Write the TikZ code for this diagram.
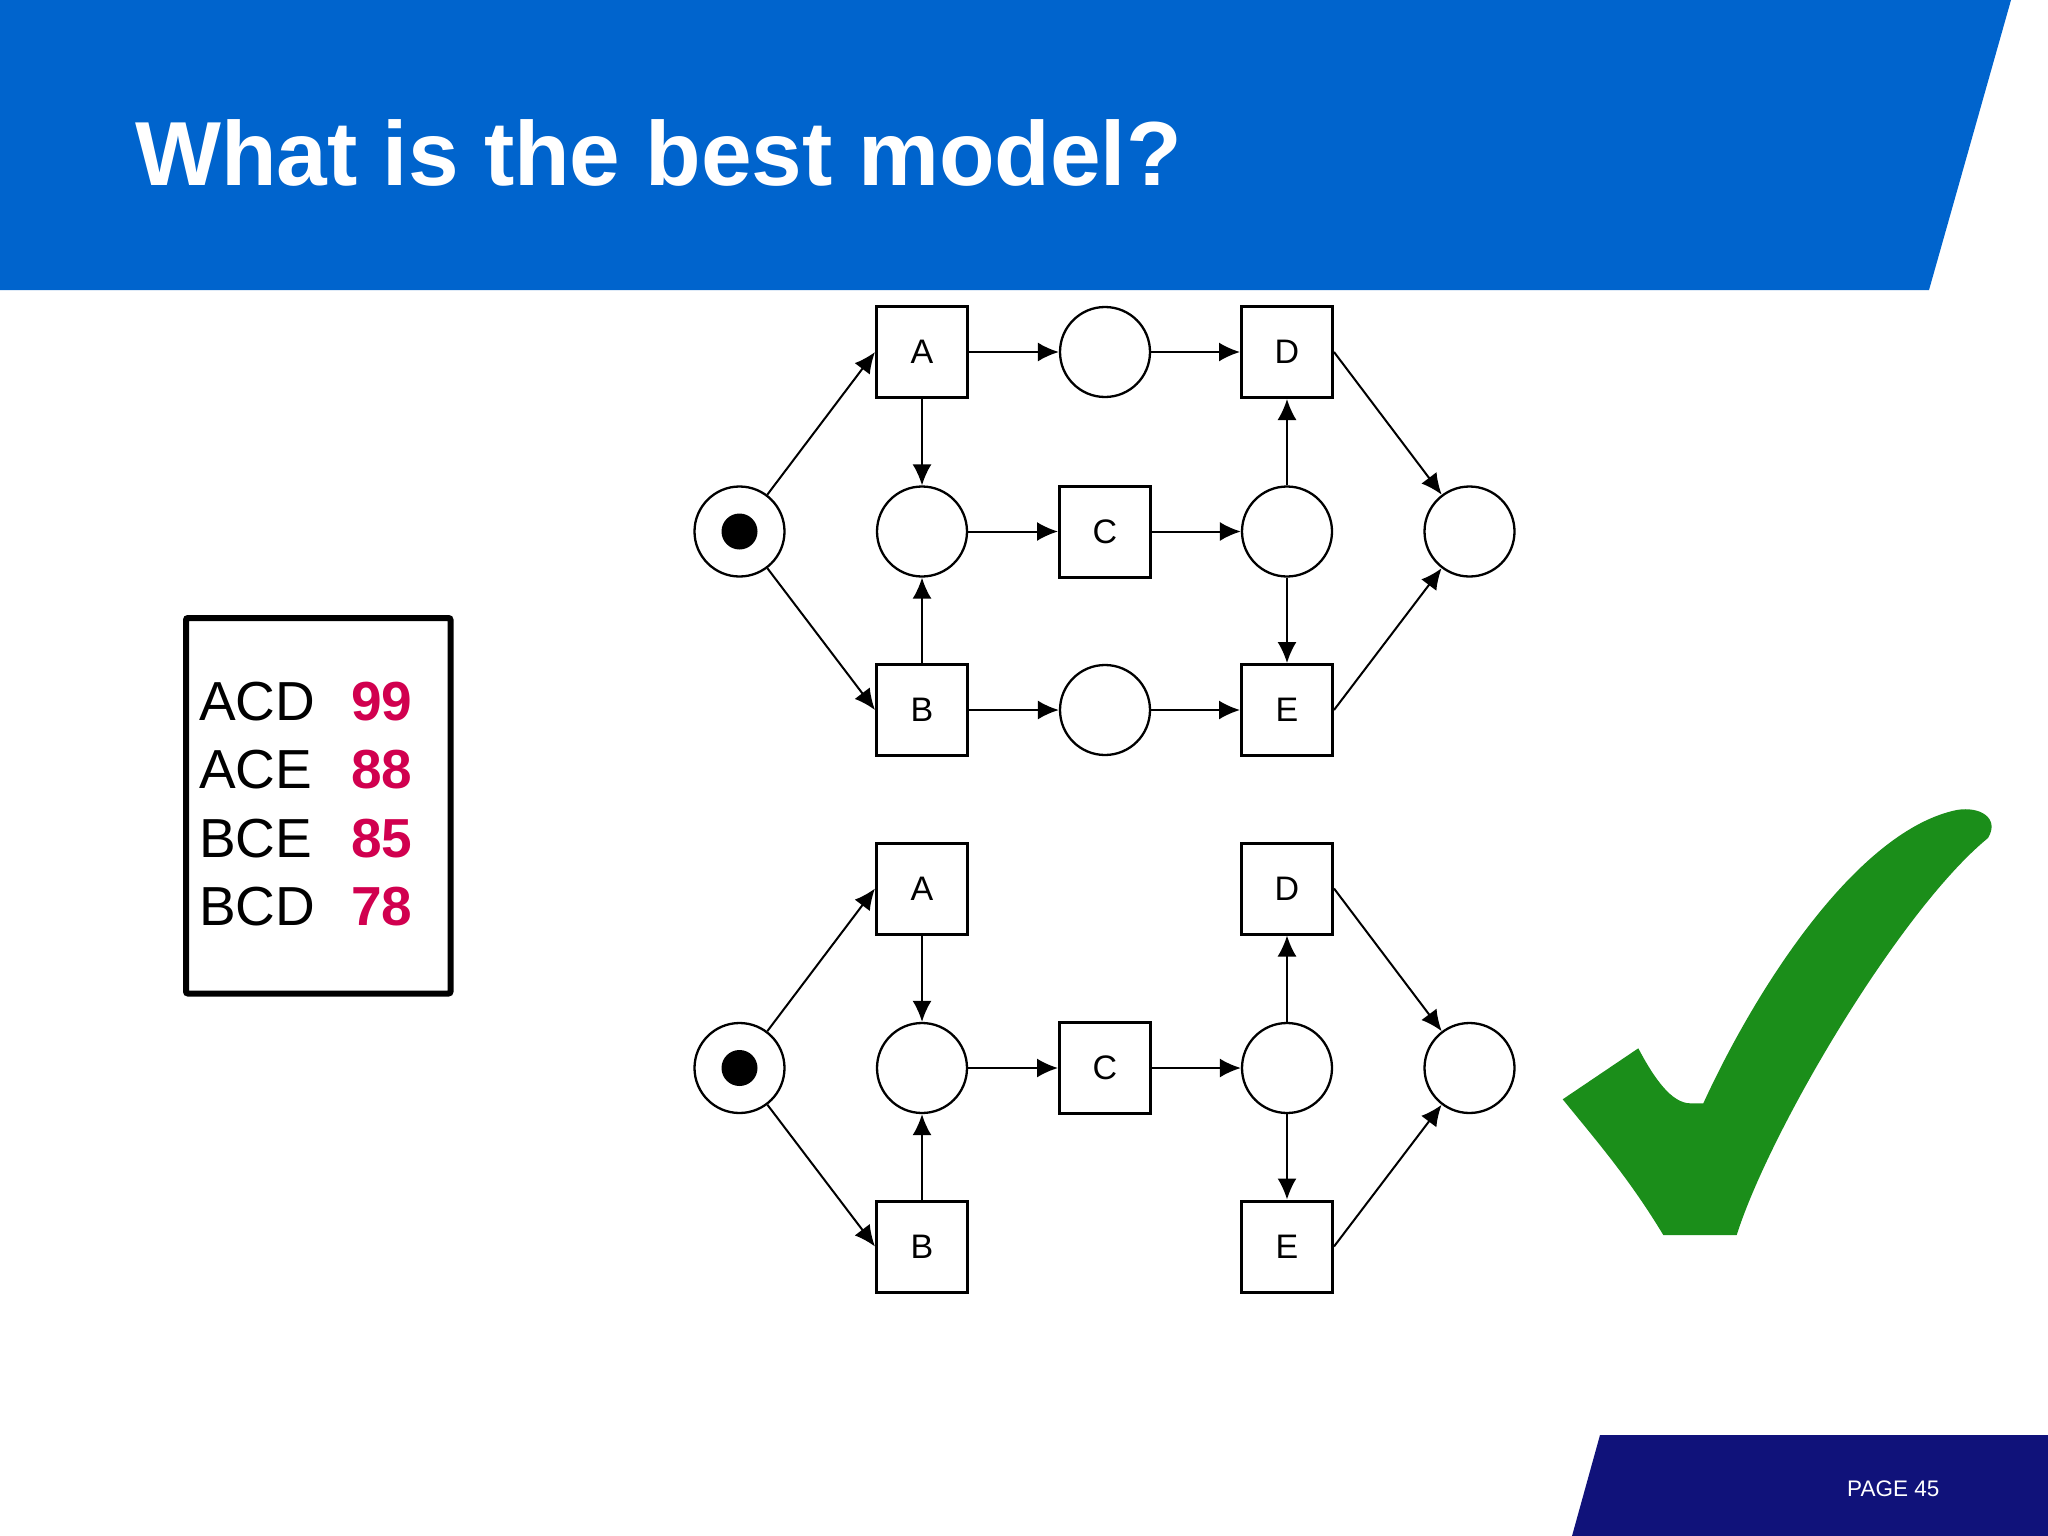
\documentclass[tikz,border=0pt]{standalone}
\usepackage{fontspec}
\setmainfont{Liberation Sans}
\usetikzlibrary{arrows.meta}
\definecolor{hdrblue}{HTML}{0064CD}
\definecolor{navy}{HTML}{10127A}
\definecolor{chkgreen}{HTML}{1B8E1A}
\definecolor{scorered}{HTML}{D1004F}
\tikzset{
  place/.style={circle, draw, line width=2.3pt, minimum size=90pt, inner sep=0pt},
  token/.style={circle, fill=black, minimum size=36pt, inner sep=0pt},
  trans/.style={rectangle, draw, line width=3pt, minimum size=91pt, inner sep=0pt, font=\fontsize{34}{40}\selectfont},
  arc/.style={-{Latex[length=21pt,width=19pt]}, line width=2pt},
  tabtext/.style={anchor=base west, inner sep=0pt, font=\fontsize{55}{60}\selectfont},
  tabnum/.style={anchor=base west, inner sep=0pt, text=scorered, font=\fontsize{55}{60}\selectfont\bfseries},
}
\begin{document}
\begin{tikzpicture}[x=1pt,y=-1pt]
\useasboundingbox (0,0) rectangle (2048,1536);
\fill[white] (0,0) rectangle (2048,1536);
% header
\fill[hdrblue] (0,0) -- (2011,0) -- (1929,290) -- (0,290) -- cycle;
\node[anchor=base west, inner sep=0pt, text=white, font=\fontsize{91}{100}\selectfont\bfseries] (title) at (135,185) {What is the best model?};
% footer
\fill[navy] (1600,1435) -- (2048,1435) -- (2048,1536) -- (1572,1536) -- cycle;
\node[anchor=base west, inner sep=0pt, text=white, font=\fontsize{22.5}{26}\selectfont] (page) at (1847,1496) {PAGE 45};
% score table
\draw[line width=6pt, rounded corners=2pt] (186,618) rectangle (450.5,993.5);
\node[tabtext] (t1) at (199,720) {ACD};
\node[tabtext] (t2) at (199,788.5) {ACE};
\node[tabtext] (t3) at (199,857) {BCE};
\node[tabtext] (t4) at (199,925.5) {BCD};
\node[tabnum] (n1) at (351,720) {99};
\node[tabnum] (n2) at (351,788.5) {88};
\node[tabnum] (n3) at (351,857) {85};
\node[tabnum] (n4) at (351,925.5) {78};
% top net
\node[place] (p0) at (739.5,531.5) {};
\node[token] (k0) at (739.5,531.5) {};
\node[trans] (A) at (922,352) {A};
\node[place] (pt) at (1105,352) {};
\node[trans] (D) at (1287,352) {D};
\node[place] (p1) at (922,531.5) {};
\node[trans] (C) at (1105,531.5) {C};
\node[place] (p3) at (1287,531.5) {};
\node[place] (pe) at (1469.5,531.5) {};
\node[trans] (B) at (922,710) {B};
\node[place] (pb) at (1105,710) {};
\node[trans] (E) at (1287,710) {E};
\draw[arc] (p0) -- (A.west);
\draw[arc] (p0) -- (B.west);
\draw[arc] (A) -- (pt);
\draw[arc] (pt) -- (D);
\draw[arc] (A) -- (p1);
\draw[arc] (B) -- (p1);
\draw[arc] (p1) -- (C);
\draw[arc] (C) -- (p3);
\draw[arc] (p3) -- (D);
\draw[arc] (p3) -- (E);
\draw[arc] (B) -- (pb);
\draw[arc] (pb) -- (E);
\draw[arc] (D.east) -- (pe);
\draw[arc] (E.east) -- (pe);
% bottom net
\node[place] (q0) at (739.5,1068) {};
\node[token] (k1) at (739.5,1068) {};
\node[trans] (A2) at (922,888.5) {A};
\node[trans] (D2) at (1287,888.5) {D};
\node[place] (q1) at (922,1068) {};
\node[trans] (C2) at (1105,1068) {C};
\node[place] (q3) at (1287,1068) {};
\node[place] (qe) at (1469.5,1068) {};
\node[trans] (B2) at (922,1246.5) {B};
\node[trans] (E2) at (1287,1246.5) {E};
\draw[arc] (q0) -- (A2.west);
\draw[arc] (q0) -- (B2.west);
\draw[arc] (A2) -- (q1);
\draw[arc] (B2) -- (q1);
\draw[arc] (q1) -- (C2);
\draw[arc] (C2) -- (q3);
\draw[arc] (q3) -- (D2);
\draw[arc] (q3) -- (E2);
\draw[arc] (D2.east) -- (qe);
\draw[arc] (E2.east) -- (qe);
% check mark
\fill[chkgreen] (1562.7,1099.3) -- (1638.3,1048.3)
  .. controls (1655,1080) and (1672,1103) .. (1690,1103.3)
  -- (1703.3,1103.3)
  .. controls (1760,980) and (1860,830) .. (1956.7,810)
  .. controls (1980,806) and (2000,818) .. (1988,838)
  .. controls (1900,910) and (1770,1130) .. (1736.7,1235)
  -- (1663.3,1235)
  .. controls (1630,1180) and (1600,1145) .. (1562.7,1099.3) -- cycle;
\end{tikzpicture}
\end{document}
